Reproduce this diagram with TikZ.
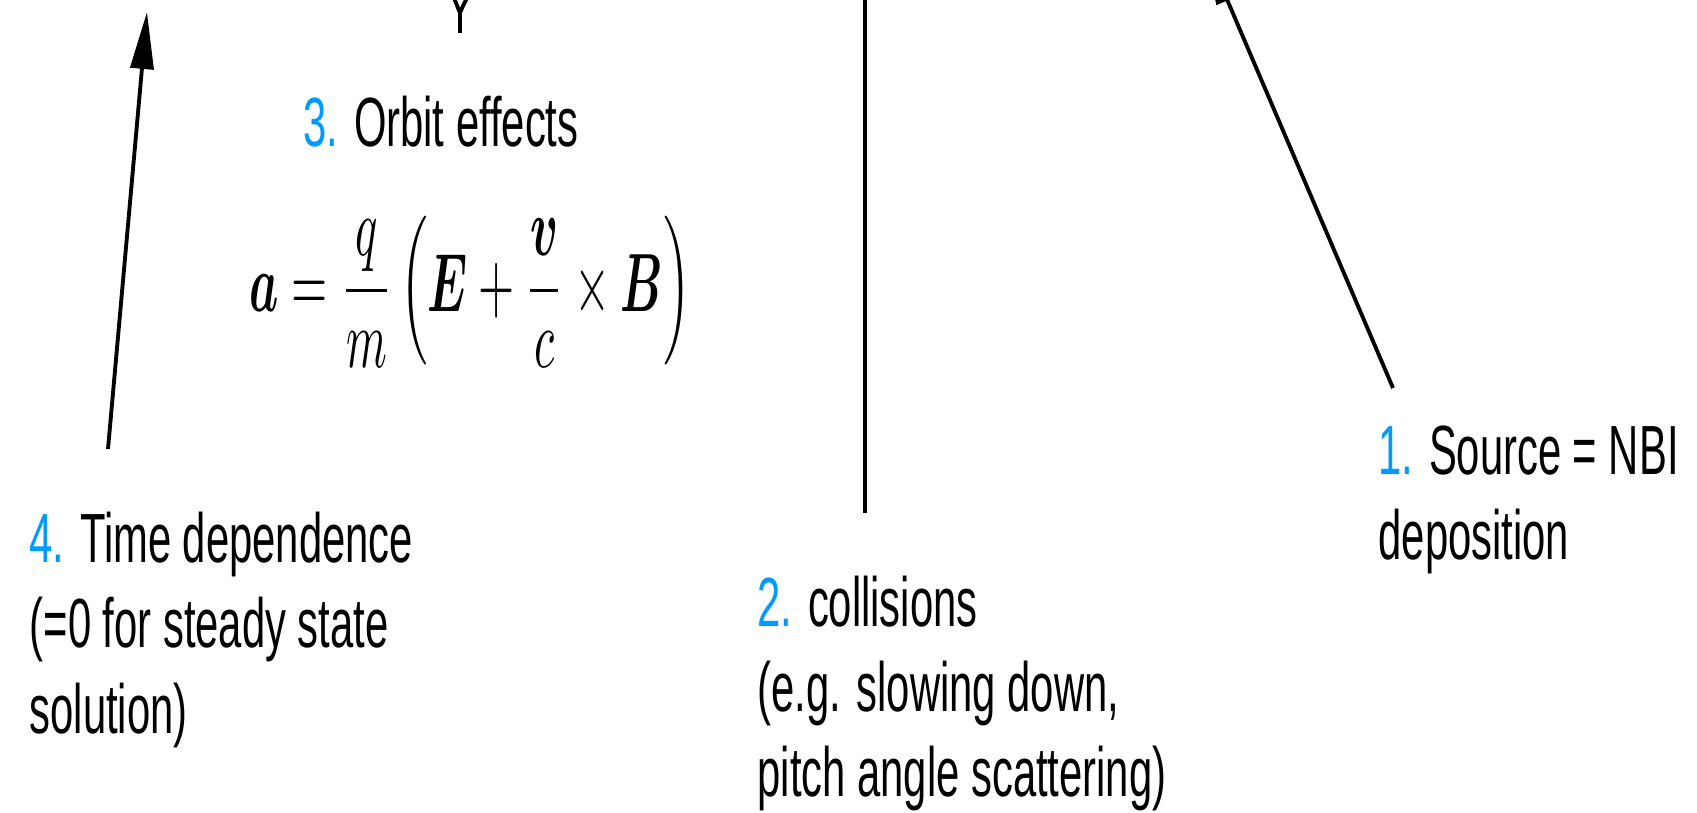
\documentclass[tikz,border=0pt]{standalone}
\usepackage{amsmath,amssymb}
\usepackage{fontspec}
\setmainfont{Liberation Sans}[FakeStretch=0.6]
\usetikzlibrary{arrows.meta, positioning, calc}
\definecolor{numblue}{RGB}{0,155,255}
\newcommand{\itemnum}[1]{\textcolor{numblue}{#1}}

\begin{document}
\begin{tikzpicture}[x=0.01cm, y=-0.01cm,
  labeltext/.style={anchor=base west, align=left, inner sep=0pt, font=\fontsize{19.8}{24.3}\selectfont},
  pointer/.style={-{Triangle[length=5.7mm, width=2.3mm]}, line width=1.1pt},
  plainline/.style={line width=1.1pt}]
  \useasboundingbox (0,0) rectangle (1697,813);
  \clip (0,0) rectangle (1697,813);

  % Terms (anchored at the baseline of their last line)
  \node[labeltext] (source) at (1378,560) {\itemnum{1.} Source = NBI\\deposition};
  \node[labeltext] (coll) at (757,797) {\itemnum{2.} collisions\\(e.g. slowing down,\\pitch angle scattering)};
  \node[labeltext] (orbit) at (303,147) {\itemnum{3.} Orbit effects};
  \node[labeltext] (time) at (29,733) {\itemnum{4.} Time dependence\\(=0 for steady state\\solution)};
  \node[inner sep=0pt] (lorentz) at (470,292) {\scalebox{1.32}[2.35]{$\displaystyle \boldsymbol{a}=\frac{q}{m}\left(\boldsymbol{E}+\frac{\boldsymbol{v}}{c}\times\boldsymbol{B}\right)$}};

  % Pointers up to the equation
  \coordinate (t1) at (1393,388);
  \coordinate (h1) at (1205,-52);
  \coordinate (t2) at (865,513);
  \coordinate (h2) at (865,-60);
  \coordinate (t3) at (460,33);
  \coordinate (h3) at (460,13);
  \coordinate (t4) at (108,449);
  \coordinate (h4) at (147,12);

  \draw[pointer] (t1) -- (h1);
  \draw[plainline] (t2) -- (h2);
  \draw[plainline] (t3) -- (h3) .. controls (458,8) .. (454,-2);
  \draw[plainline] (h3) .. controls (462,8) .. (467,-2);
  \draw[pointer] (t4) -- (h4);
\end{tikzpicture}
\end{document}
